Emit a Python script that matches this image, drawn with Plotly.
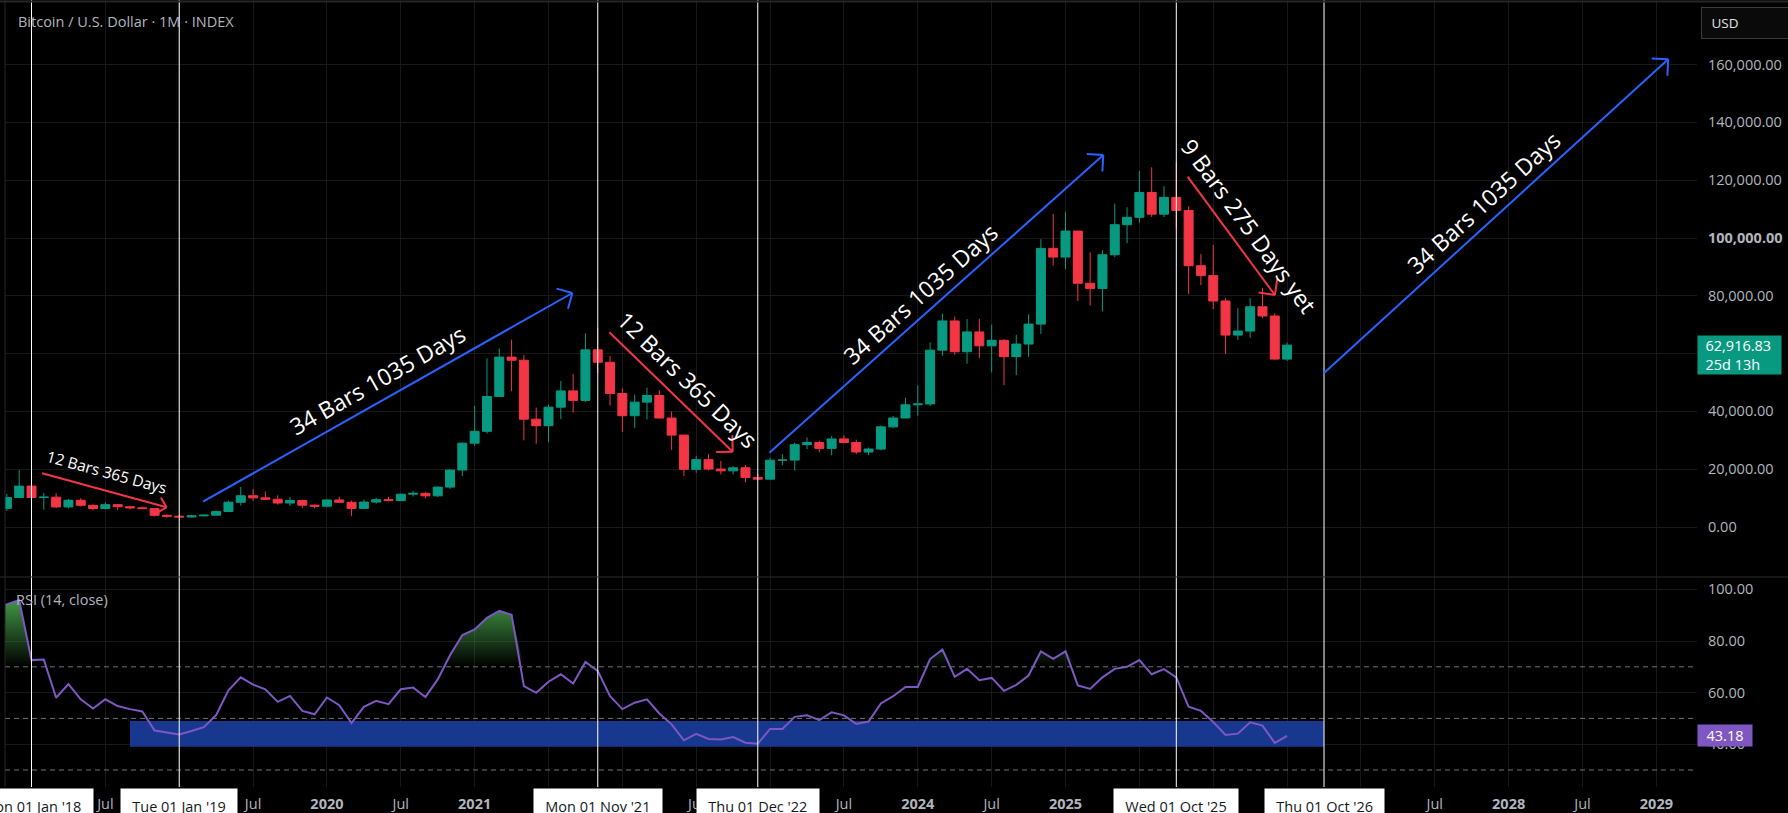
import math
import plotly.graph_objects as go

# ---------------- data (x = bar index, 0 = Jan 2018, one bar per month) ----------------
month_index = list(range(-2, 103))  # Nov 2017 .. Jul 2026

opens = [6450, 10200,
         14150, 10200, 10330, 6950, 9250, 7500, 6400, 7730, 7030, 6630, 6370, 4040,
         3740, 3460, 3850, 4100, 5350, 8560, 10820, 10090, 9600, 8300, 9150, 7550,
         7200, 9350, 8550, 6420, 8630, 9450, 9140, 11350, 11650, 10780, 13800, 19700,
         29000, 33100, 45150, 58800, 57700, 37300, 35050, 41460, 47100, 43800, 61300, 57000,
         46200, 38500, 43200, 45500, 37700, 31800, 19950, 23300, 20050, 19430, 20500, 17150,
         16550, 23130, 23150, 28500, 29250, 27200, 30480, 29230, 25950, 26970, 34650, 37720,
         42280, 42580, 61200, 71300, 60650, 67500, 62700, 64600, 58950, 63300, 70200, 96400,
         93400, 102400, 84350, 82550, 94200, 104600, 107150, 115750, 108250, 114050, 109500, 90400,
         87000, 78200, 66400, 67800, 76200, 73000, 58100]
highs = [11400, 19700,
         17200, 11800, 11700, 9750, 10000, 7780, 8500, 7760, 7400, 7100, 6550, 4350,
         4100, 4200, 4100, 5600, 9100, 13880, 13200, 12300, 10950, 10400, 9500, 7750,
         9580, 10500, 9200, 9460, 10080, 10400, 11450, 12480, 12070, 14100, 19900, 29300,
         41950, 58350, 61800, 64850, 59500, 41300, 42300, 50500, 52900, 67000, 69000, 59100,
         47900, 45800, 48200, 47400, 40000, 31900, 24650, 25200, 22800, 21050, 21450, 18400,
         23950, 25250, 29200, 31000, 29850, 31450, 31800, 30200, 27500, 35200, 38450, 44700,
         48970, 63900, 73800, 72800, 71950, 72000, 70000, 65000, 66500, 73600, 99600, 108300,
         109100, 102500, 95000, 95750, 111900, 110600, 123200, 124450, 117900, 126200, 111000, 94500,
         97600, 79200, 75700, 79200, 82700, 73900, 63800]
lows = [5550, 10900,
        9400, 6000, 6600, 6450, 7050, 5750, 6100, 5880, 6100, 6200, 3650, 3150,
        3400, 3380, 3700, 4050, 5330, 7450, 9100, 9350, 7750, 7300, 6500, 6450,
        6850, 8450, 3850, 6150, 8100, 8900, 8980, 10500, 9900, 10400, 13200, 17600,
        28100, 32300, 44950, 47000, 30000, 28800, 29300, 37300, 39600, 43300, 53300, 42000,
        32900, 34300, 37200, 37600, 26700, 17600, 18800, 19550, 18200, 18200, 15500, 16300,
        16500, 21400, 19550, 26950, 25850, 24800, 28900, 25150, 24900, 26550, 34100, 37600,
        38500, 41850, 59300, 59600, 56500, 58400, 53500, 49100, 52550, 58900, 66800, 90500,
        89200, 78200, 76600, 74600, 93400, 98200, 105300, 107300, 107250, 103500, 80600, 83700,
        75400, 59900, 64700, 65400, 72300, 57800, 57500]
closes = [10200, 14150,
          10200, 10330, 6950, 9250, 7500, 6400, 7730, 7030, 6630, 6370, 4040, 3740,
          3460, 3850, 4100, 5350, 8560, 10820, 10090, 9600, 8300, 9150, 7550, 7200,
          9350, 8550, 6420, 8630, 9450, 9140, 11350, 11650, 10780, 13800, 19700, 29000,
          33100, 45150, 58800, 57700, 37300, 35050, 41460, 47100, 43800, 61300, 57000, 46200,
          38500, 43200, 45500, 37700, 31800, 19950, 23300, 20050, 19430, 20500, 17150, 16550,
          23130, 23150, 28500, 29250, 27200, 30480, 29230, 25950, 26970, 34650, 37720, 42280,
          42580, 61200, 71300, 60650, 67500, 62700, 64600, 58950, 63300, 70200, 96400, 93400,
          102400, 84350, 82550, 94200, 104600, 107150, 115750, 108250, 114050, 109500, 90400, 87000,
          78200, 66400, 67800, 76200, 73000, 58100, 62916.83]

rsi_month = list(range(-3, 103))  # Oct 2017 .. Jul 2026
rsi_values = [92.5, 94.3, 95.9,
              72.6, 72.8, 58.0, 63.3, 57.4, 53.8, 57.4, 54.8, 53.6, 52.7, 45.3, 44.5,
              43.8, 45.1, 46.6, 51.3, 60.9, 65.9, 63.1, 61.3, 56.4, 58.7, 52.9, 51.6,
              58.1, 55.1, 48.2, 54.5, 56.8, 55.5, 61.3, 62.0, 58.3, 65.1, 74.5, 82.3,
              84.5, 89.0, 91.7, 90.2, 62.5, 59.9, 64.2, 67.1, 63.5, 71.9, 68.4, 58.6,
              53.6, 56.1, 57.4, 51.9, 47.7, 41.5, 44.0, 42.0, 41.8, 42.8, 40.6, 40.2,
              45.9, 45.9, 50.6, 51.2, 49.3, 52.4, 51.2, 47.9, 48.8, 55.8, 58.6, 62.2,
              62.2, 73.0, 76.7, 66.1, 69.2, 64.8, 65.7, 60.7, 63.0, 66.6, 76.0, 73.1,
              76.0, 62.8, 61.4, 65.9, 69.2, 70.0, 72.6, 67.1, 69.1, 65.9, 54.5, 52.9,
              48.6, 43.6, 44.1, 48.5, 47.2, 40.5, 43.18]

price_ticks = [0, 20000, 40000, 60000, 80000, 100000, 120000, 140000, 160000]
price_tick_labels = ["0.00", "20,000.00", "40,000.00", "60,000.00", "80,000.00",
                     "<b>100,000.00</b>", "120,000.00", "140,000.00", "160,000.00"]
rsi_ticks = [40, 60, 80, 100]
rsi_tick_labels = ["40.00", "60.00", "80.00", "100.00"]
rsi_levels = [70, 50, 30]

# labels hidden behind the highlighted date boxes are left blank
time_tick_months = [0, 6, 12, 18, 24, 30, 36, 42, 48, 54, 60, 66, 72, 78, 84, 90,
                    96, 102, 108, 114, 120, 126, 132]
time_tick_labels = ["", "Jul", "", "Jul", "<b>2020</b>", "Jul",
                    "<b>2021</b>", "", "", "Jul", "", "Jul",
                    "<b>2024</b>", "Jul", "<b>2025</b>", "",
                    "", "", "", "Jul", "<b>2028</b>", "Jul", "<b>2029</b>"]

marker_months = [0, 12, 46, 59, 93, 105]
marker_labels = ["Mon 01 Jan '18", "Tue 01 Jan '19", "Mon 01 Nov '21",
                 "Thu 01 Dec '22", "Wed 01 Oct '25", "Thu 01 Oct '26"]

zone_months = [8, 105]
zone_rsi = [39, 49]

# trend-line drawings (bar index, price)
arrow_start_m = [0.86, 13.93, 46.94, 59.94, 93.92, 105.0]
arrow_start_p = [18581, 8754, 67370, 25709, 121211, 53322]
arrow_end_m = [10.97, 43.94, 56.96, 87.07, 101.01, 132.96]
arrow_end_p = [6817, 80969, 26055, 128719, 80277, 161832]
arrow_text = ["12 Bars 365 Days", "34 Bars 1035 Days", "12 Bars 365 Days",
              "34 Bars 1035 Days", "9 Bars 275 Days yet", "34 Bars 1035 Days"]
label_m = [6.13, 28.07, 53.35, 72.18, 98.9, 117.99]
label_p = [19031, 50865, 51000, 80623, 104000, 112457]

last_price = 62916.83
last_rsi = 43.18

# ---------------- styling ----------------
W, H = 1788, 813
ML, MR, MT, MB = 5, 91, 0, 26
X_RANGE = [-2.153, 135.30]
P_RANGE = [-17301, 182353]
R_RANGE = [23.41, 104.81]
D = 0.26684  # pane split (paper)
UP, DOWN = "#089981", "#F23645"
BLUE, RED = "#2962FF", "#F23645"
GRID = "#181818"
TXT = "#b2b5be"
FONT = "Open Sans"

arrow_color = [RED, BLUE, RED, BLUE, RED, BLUE]
arrow_font = [15.5, 23, 23, 23, 23, 23]
arrow_head = [13, 18, 18, 18, 18, 18]

plot_w = W - ML - MR
plot_h = H - MT - MB
sx = plot_w / (X_RANGE[1] - X_RANGE[0])
sy = plot_h * (1 - D) / (P_RANGE[1] - P_RANGE[0])


def screen_angle(m0, p0, m1, p1):
    return math.degrees(math.atan2(-(p1 - p0) * sy, (m1 - m0) * sx))


fig = go.Figure()

fig.add_trace(go.Candlestick(
    x=month_index, open=opens, high=highs, low=lows, close=closes,
    increasing=dict(line=dict(color=UP, width=1), fillcolor=UP),
    decreasing=dict(line=dict(color=DOWN, width=1), fillcolor=DOWN),
    whiskerwidth=0, showlegend=False, xaxis="x", yaxis="y", hoverinfo="none"))

ob_base = [70 for _ in rsi_values]
ob_top = [max(v, 70) for v in rsi_values]
fig.add_trace(go.Scatter(x=rsi_month, y=ob_base, mode="lines", line=dict(width=0, color="rgba(0,0,0,0)"),
                         xaxis="x", yaxis="y2", hoverinfo="skip", showlegend=False))
fig.add_trace(go.Scatter(x=rsi_month, y=ob_top, mode="lines", line=dict(width=0, color="rgba(0,0,0,0)"),
                         fill="tonexty",
                         fillgradient=dict(type="vertical",
                                           colorscale=[[0, "rgba(76,175,80,0)"], [1, "rgba(76,175,80,1)"]],
                                           start=70, stop=100),
                         xaxis="x", yaxis="y2", hoverinfo="skip", showlegend=False))
fig.add_trace(go.Scatter(x=rsi_month, y=rsi_values, mode="lines", line=dict(color="#7E57C2", width=2),
                         xaxis="x", yaxis="y2", hoverinfo="skip", showlegend=False))

shapes = []
# RSI zone
shapes.append(dict(type="rect", xref="x", yref="y2", x0=zone_months[0], x1=zone_months[1],
                   y0=zone_rsi[0], y1=zone_rsi[1], fillcolor="#18388f", line=dict(width=0), layer="between"))
# RSI level lines
for lv in rsi_levels:
    shapes.append(dict(type="line", xref="paper", yref="y2", x0=0, x1=1, y0=lv, y1=lv,
                       line=dict(color="#6f7179", width=1, dash="5px,4px"), layer="above"))
# vertical date markers
for m in marker_months:
    shapes.append(dict(type="line", xref="x", yref="paper", x0=m, x1=m, y0=0, y1=1,
                       line=dict(color="#ffffff", width=1), layer="above"))
# pane borders
shapes.append(dict(type="line", xref="paper", yref="paper", x0=-0.01, x1=1.06, y0=D, y1=D,
                   line=dict(color="#2c2c2c", width=1)))
shapes.append(dict(type="line", xref="paper", yref="paper", x0=-0.01, x1=1.06, y0=0.998, y1=0.998,
                   line=dict(color="#262626", width=2)))
shapes.append(dict(type="line", xref="paper", yref="paper", x0=0, x1=0, y0=0, y1=1,
                   line=dict(color="#262626", width=1)))
# trend lines
for i in range(len(arrow_text)):
    shapes.append(dict(type="line", xref="x", yref="y", x0=arrow_start_m[i], y0=arrow_start_p[i],
                       x1=arrow_end_m[i], y1=arrow_end_p[i],
                       line=dict(color=arrow_color[i], width=2), layer="above"))

annotations = []
for i in range(len(arrow_text)):
    ang = screen_angle(arrow_start_m[i], arrow_start_p[i], arrow_end_m[i], arrow_end_p[i])
    # arrow head legs (pixel offsets from tip)
    bx, by = -math.cos(math.radians(ang)), -math.sin(math.radians(ang))
    for s in (1, -1):
        a = math.radians(45 * s)
        lx = bx * math.cos(a) - by * math.sin(a)
        ly = bx * math.sin(a) + by * math.cos(a)
        annotations.append(dict(x=arrow_end_m[i], y=arrow_end_p[i], xref="x", yref="y", text="",
                                showarrow=True, arrowhead=0, arrowwidth=2, arrowcolor=arrow_color[i],
                                ax=lx * arrow_head[i], ay=ly * arrow_head[i], standoff=0, startstandoff=0))
    annotations.append(dict(x=label_m[i], y=label_p[i], xref="x", yref="y", text=arrow_text[i],
                            showarrow=False, textangle=ang, xanchor="center", yanchor="middle",
                            font=dict(family=FONT, size=arrow_font[i], color="#ffffff")))

# legends / titles
annotations.append(dict(x=(15.7 - ML) / plot_w, y=1 - 22 / plot_h, xref="paper", yref="paper",
                        text="Bitcoin / U.S. Dollar · 1M · INDEX", showarrow=False,
                        xanchor="left", yanchor="middle", font=dict(family=FONT, size=14.5, color=TXT)))
annotations.append(dict(x=(14.4 - ML) / plot_w, y=(plot_h - 599.3) / plot_h, xref="paper", yref="paper",
                        text="RSI (14, close)", showarrow=False,
                        xanchor="left", yanchor="middle", font=dict(family=FONT, size=14.5, color=TXT)))
# currency button
annotations.append(dict(x=(1700.7 - ML) / plot_w, y=1 - 7 / plot_h, xref="paper", yref="paper",
                        text="&nbsp;USD", showarrow=False, xanchor="left", yanchor="top", align="left",
                        width=80, borderpad=6, bgcolor="#0a0a0a", bordercolor="#3a3a3a", borderwidth=1,
                        font=dict(family=FONT, size=13.5, color="#e0e3eb")))
# last price & rsi labels
annotations.append(dict(x=1.0, y=last_price, xref="paper", yref="y",
                        text="&nbsp;&nbsp;62,916.83<br>&nbsp;&nbsp;25d 13h", showarrow=False,
                        xanchor="left", yanchor="middle", align="left", width=83, borderpad=0,
                        yshift=-9.5, bgcolor=UP, font=dict(family=FONT, size=14.5, color="#ffffff")))
annotations.append(dict(x=1.0, y=last_rsi, xref="paper", yref="y2", text="43.18", showarrow=False,
                        xanchor="left", yanchor="middle", align="center", width=52, borderpad=1,
                        bgcolor="#7E57C2", font=dict(family=FONT, size=14.5, color="#ffffff")))
# highlighted date labels
for m, lab in zip(marker_months, marker_labels):
    annotations.append(dict(x=m, y=-1.0 / plot_h, xref="x", yref="paper", text="&nbsp;" + lab + "&nbsp;",
                            showarrow=False, xanchor="center", yanchor="top", bgcolor="#ffffff",
                            borderpad=7.5, font=dict(family=FONT, size=14.5, color="#131722")))

fig.update_layout(
    width=W, height=H, margin=dict(l=ML, r=MR, t=MT, b=MB, pad=0),
    paper_bgcolor="#000000", plot_bgcolor="#000000", showlegend=False, hovermode=False,
    font=dict(family=FONT, color=TXT, size=14.5),
    boxgap=0.27, boxgroupgap=0,
    xaxis=dict(range=X_RANGE, domain=[0, 1], anchor="y2", showgrid=True, gridcolor=GRID, gridwidth=1,
               tickmode="array", tickvals=time_tick_months, ticktext=time_tick_labels, ticks="",
               showline=False, zeroline=False, rangeslider=dict(visible=False), fixedrange=True,
               tickfont=dict(family=FONT, size=14.5, color=TXT), ticklabelstandoff=6),
    yaxis=dict(domain=[D, 1], range=P_RANGE, side="right", anchor="x", tickmode="array",
               tickvals=price_ticks, ticktext=price_tick_labels, showgrid=True, gridcolor=GRID,
               zeroline=False, ticks="", showline=False, ticklabelstandoff=10,
               tickfont=dict(family=FONT, size=14.5, color=TXT)),
    yaxis2=dict(domain=[0, D], range=R_RANGE, side="right", anchor="x", tickmode="array",
                tickvals=rsi_ticks, ticktext=rsi_tick_labels, showgrid=True, gridcolor=GRID,
                zeroline=False, ticks="", showline=False, ticklabelstandoff=10,
                tickfont=dict(family=FONT, size=14.5, color=TXT)),
    shapes=shapes, annotations=annotations,
)

fig.write_html("out.html")
